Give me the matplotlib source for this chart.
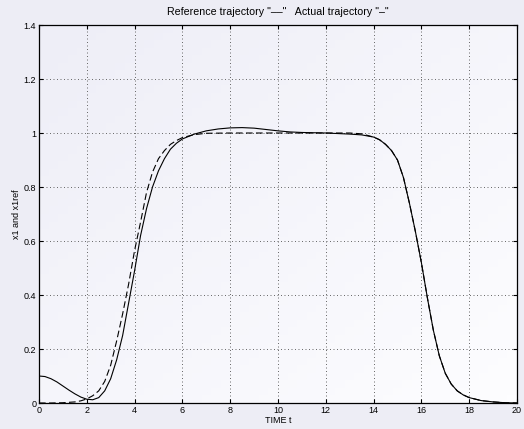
import numpy as np
import matplotlib
matplotlib.use("Agg")
import matplotlib.pyplot as plt
from matplotlib.colors import LinearSegmentedColormap

plt.rcParams["font.family"] = ["Liberation Sans", "DejaVu Sans"]
plt.rcParams["font.size"] = 6

# actual trajectory x1 (solid)
t_act = [0, 0.25, 0.5, 0.75, 1.0, 1.25, 1.5, 1.75, 2.0, 2.25, 2.5, 2.75,
         3.0, 3.25, 3.5, 3.75, 4.0, 4.25, 4.5, 4.75, 5.0, 5.25, 5.5, 5.75,
         6.0, 6.5, 7.0, 7.5, 8.0, 8.5, 9.0, 9.5, 10.0, 10.5, 11.0, 12.0,
         13.0, 13.5, 14.0, 14.25, 14.5, 14.75, 15.0, 15.25, 15.5, 15.75,
         16.0, 16.25, 16.5, 16.75, 17.0, 17.25, 17.5, 17.75, 18.0, 18.5,
         19.0, 19.5, 20.0]
x1_act = [0.100, 0.098, 0.090, 0.078, 0.063, 0.048, 0.034, 0.022, 0.014,
          0.012, 0.020, 0.045, 0.090, 0.16, 0.25, 0.37, 0.49, 0.62, 0.72,
          0.80, 0.86, 0.905, 0.94, 0.962, 0.978, 0.996, 1.008, 1.015, 1.019,
          1.020, 1.018, 1.013, 1.008, 1.004, 1.002, 1.000, 0.996, 0.993,
          0.985, 0.975, 0.958, 0.935, 0.900, 0.835, 0.74, 0.635, 0.52, 0.39,
          0.27, 0.175, 0.110, 0.070, 0.045, 0.030, 0.020, 0.009, 0.004,
          0.001, 0.0]

# reference trajectory x1ref (dashed)
t_ref = [0, 0.5, 1.0, 1.5, 1.75, 2.0, 2.25, 2.5, 2.75, 3.0, 3.25, 3.5,
         3.75, 4.0, 4.25, 4.5, 4.75, 5.0, 5.25, 5.5, 5.75, 6.0, 6.5, 7.0,
         8.0, 13.0, 13.5, 14.0, 14.25, 14.5, 14.75, 15.0, 15.25, 15.5,
         15.75, 16.0, 16.25, 16.5, 16.75, 17.0, 17.25, 17.5, 17.75, 18.0,
         18.5, 19.0, 19.5, 20.0]
x1_ref = [0.0, 0.0, 0.001, 0.004, 0.008, 0.015, 0.027, 0.045, 0.08, 0.14,
          0.23, 0.33, 0.44, 0.565, 0.67, 0.78, 0.855, 0.905, 0.935, 0.958,
          0.972, 0.983, 0.994, 0.999, 1.0, 1.0, 0.997, 0.985, 0.975, 0.958,
          0.935, 0.900, 0.835, 0.74, 0.635, 0.52, 0.39, 0.27, 0.175, 0.110,
          0.070, 0.045, 0.030, 0.020, 0.009, 0.004, 0.001, 0.0]

x_ticks = np.arange(0, 21, 2)
y_ticks = [0, 0.2, 0.4, 0.6, 0.8, 1, 1.2, 1.4]
y_labels = ["0", "0.2", "0.4", "0.6", "0.8", "1", "1.2", "1.4"]

fig = plt.figure(figsize=(5.24, 4.29), dpi=100, facecolor="#ededf5")
ax = fig.add_axes([0.0744, 0.0606, 0.9122, 0.8811])

# soft background shading like the original export
cmap = LinearSegmentedColormap.from_list("bg", ["#eeeef7", "#fdfdff"])
grad = np.add.outer(np.linspace(0, 1, 50), np.linspace(0, 1, 50)) / 2
ax.imshow(grad, cmap=cmap, extent=[0, 1, 0, 1], transform=ax.transAxes,
          aspect="auto", zorder=0, origin="upper")

ax.plot(t_ref, x1_ref, color="black", lw=0.8, dashes=(6, 3), zorder=3)
ax.plot(t_act, x1_act, color="black", lw=0.8, zorder=4)

ax.set_xlim(0, 20)
ax.set_ylim(0, 1.4)
ax.set_xticks(x_ticks)
ax.set_yticks(y_ticks)
ax.set_yticklabels(y_labels)
ax.grid(True, linestyle=(0, (1, 2.6)), color="0.4", lw=0.7)
ax.tick_params(direction="in", length=3, width=0.8, top=True, right=True,
               labelsize=6.5, pad=2)
for s in ax.spines.values():
    s.set_linewidth(0.9)

ax.set_title('Reference trajectory "\u2013\u2013"   Actual trajectory "\u2013"',
             fontsize=7.7, pad=7)
ax.set_xlabel("TIME t", fontsize=6.5, labelpad=1)
ax.set_ylabel("x1 and x1ref", fontsize=6.5, labelpad=2)

fig.savefig("out.png", dpi=100, facecolor=fig.get_facecolor())
